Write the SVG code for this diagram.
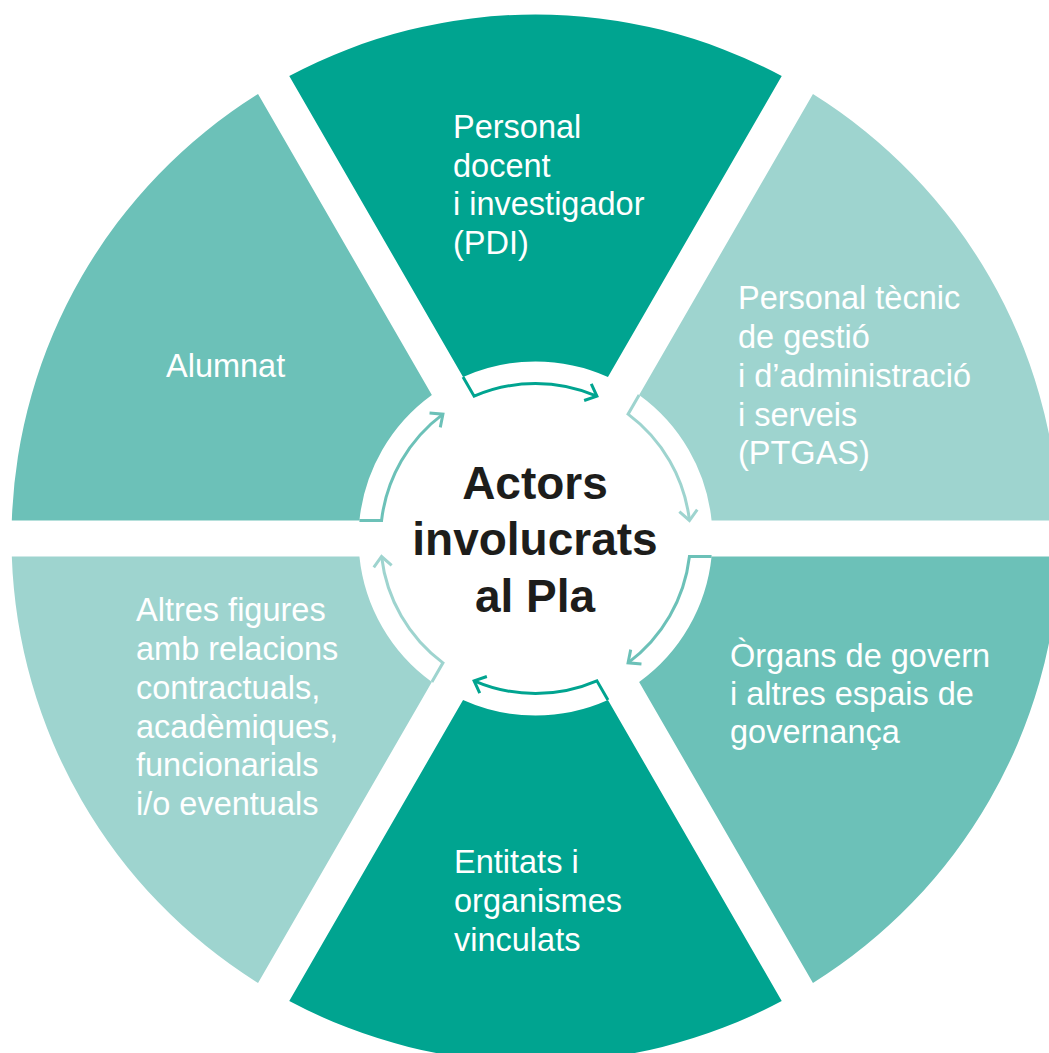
<svg xmlns="http://www.w3.org/2000/svg" width="1049" height="1053" viewBox="0 0 1049 1053">
<style>
.dark{fill:#00A490}
.med{fill:#6CC1B8}
.light{fill:#9ED4CF}
.lbl{font-family:"Liberation Sans",Arial,sans-serif;font-size:32.5px;fill:#ffffff}
.ctr{font-family:"Liberation Sans",Arial,sans-serif;font-size:46px;font-weight:bold;fill:#1d1d1b;text-anchor:middle}
.arr{fill:none;stroke-width:3}
</style>
<defs>
<marker id="hd" markerUnits="userSpaceOnUse" markerWidth="30" markerHeight="30" viewBox="-15 -15 30 30" refX="0" refY="0" orient="auto"><path d="M-10,-9 L0,0 L-10,9" fill="none" stroke="#00A490" stroke-width="3"/></marker>
<marker id="hm" markerUnits="userSpaceOnUse" markerWidth="30" markerHeight="30" viewBox="-15 -15 30 30" refX="0" refY="0" orient="auto"><path d="M-10,-9 L0,0 L-10,9" fill="none" stroke="#6CC1B8" stroke-width="3"/></marker>
<marker id="hl" markerUnits="userSpaceOnUse" markerWidth="30" markerHeight="30" viewBox="-15 -15 30 30" refX="0" refY="0" orient="auto"><path d="M-10,-9 L0,0 L-10,9" fill="none" stroke="#9ED4CF" stroke-width="3"/></marker>
</defs>
<rect width="1049" height="1053" fill="#ffffff"/>
<g id="pdi">
<path class="dark" d="M289.27,75.96 A524,524 0 0 1 781.73,75.96 L607.95,377.01 A177,177 0 0 0 463.05,377.01 Z"/>
<text class="lbl" x="453" y="138">Personal</text>
<text class="lbl" x="453" y="176.5">docent</text>
<text class="lbl" x="453" y="215">i investigador</text>
<text class="lbl" x="453" y="253.5">(PDI)</text>
</g>
<g id="ptgas">
<path class="light" d="M812.96,93.99 A524,524 0 0 1 1059.19,520.47 L711.58,520.5 A177,177 0 0 0 639.13,395.01 Z"/>
<text class="lbl" x="738" y="309">Personal tècnic</text>
<text class="lbl" x="738" y="348">de gestió</text>
<text class="lbl" x="738" y="387">i d’administració</text>
<text class="lbl" x="738" y="426">i serveis</text>
<text class="lbl" x="738" y="464">(PTGAS)</text>
</g>
<g id="organs">
<path class="med" d="M1059.19,556.53 A524,524 0 0 1 812.96,983.01 L639.13,681.99 A177,177 0 0 0 711.58,556.5 Z"/>
<text class="lbl" x="730" y="667">Òrgans de govern</text>
<text class="lbl" x="730" y="705">i altres espais de</text>
<text class="lbl" x="730" y="743">governança</text>
</g>
<g id="entitats">
<path class="dark" d="M781.73,1001.04 A524,524 0 0 1 289.27,1001.04 L463.05,700 A177,177 0 0 0 607.95,700 Z"/>
<text class="lbl" x="454" y="873">Entitats i</text>
<text class="lbl" x="454" y="912">organismes</text>
<text class="lbl" x="454" y="951">vinculats</text>
</g>
<g id="altres">
<path class="light" d="M258.04,983.01 A524,524 0 0 1 11.81,556.53 L359.42,556.5 A177,177 0 0 0 431.87,681.99 Z"/>
<text class="lbl" x="136" y="621">Altres figures</text>
<text class="lbl" x="136" y="660">amb relacions</text>
<text class="lbl" x="136" y="699">contractuals,</text>
<text class="lbl" x="136" y="738">acadèmiques,</text>
<text class="lbl" x="136" y="776">funcionarials</text>
<text class="lbl" x="136" y="815">i/o eventuals</text>
</g>
<g id="alumnat">
<path class="med" d="M11.81,520.47 A524,524 0 0 1 258.04,93.99 L431.87,395.01 A177,177 0 0 0 359.42,520.5 Z"/>
<text class="lbl" x="166" y="377">Alumnat</text>
</g>
<g id="center">
<text class="ctr" x="535" y="499">Actors</text>
<text class="ctr" x="535" y="555">involucrats</text>
<text class="ctr" x="535" y="611.5">al Pla</text>
</g>
<g id="connectors">
<path class="arr" stroke="#00A490" marker-end="url(#hd)" d="M463.05,377.01 L474.11,396.17 A155,155 0 0 1 596.89,396.17"/>
<path class="arr" stroke="#9ED4CF" marker-end="url(#hl)" d="M639.13,395.01 L628.07,414.17 A155,155 0 0 1 689.45,520.5"/>
<path class="arr" stroke="#6CC1B8" marker-end="url(#hm)" d="M711.58,556.5 L689.45,556.5 A155,155 0 0 1 628.07,662.83"/>
<path class="arr" stroke="#00A490" marker-end="url(#hd)" d="M607.95,700 L596.89,680.83 A155,155 0 0 1 474.11,680.83"/>
<path class="arr" stroke="#9ED4CF" marker-end="url(#hl)" d="M431.87,681.99 L442.93,662.83 A155,155 0 0 1 381.55,556.5"/>
<path class="arr" stroke="#6CC1B8" marker-end="url(#hm)" d="M359.42,520.5 L381.55,520.5 A155,155 0 0 1 442.93,414.17"/>
</g>
</svg>
